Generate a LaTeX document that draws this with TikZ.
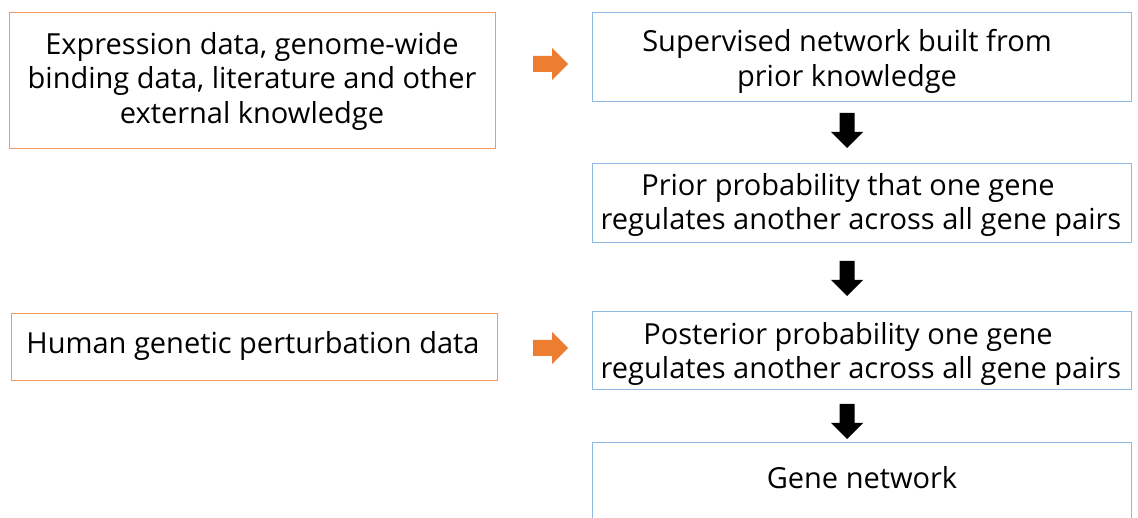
\documentclass[tikz,border=0pt]{standalone}
\usepackage{fontspec}
\setmainfont{Open Sans}
\usetikzlibrary{calc}
\definecolor{oarrow}{HTML}{ED7D31}
\definecolor{obord}{HTML}{F09A5E}
\definecolor{bbord}{HTML}{8FB8E2}
\tikzset{
  obox/.style={draw=obord, line width=0.9pt, rectangle, inner sep=0pt, anchor=north west},
  bbox/.style={draw=bbord, line width=0.9pt, rectangle, inner sep=0pt, anchor=north west},
  lbl/.style={align=center, inner sep=0pt, font=\fontsize{29}{34.5}\selectfont, text=black},
  oarr/.style={fill=oarrow},
  barr/.style={fill=black},
}
\begin{document}
\begin{tikzpicture}[x=1pt,y=-1pt]
\useasboundingbox (0,0) rectangle (1138,518);
% boxes
\node[obox, minimum width=486pt, minimum height=136pt] (O1) at (9,12) {};
\node[obox, minimum width=486pt, minimum height=67pt] (O2) at (11,313) {};
\node[bbox, minimum width=539pt, minimum height=89pt] (B1) at (592,12) {};
\node[bbox, minimum width=539pt, minimum height=79pt] (B2) at (592,163) {};
\node[bbox, minimum width=539pt, minimum height=78pt] (B3) at (592,311) {};
\node[inner sep=0pt, minimum width=539pt, minimum height=80pt, anchor=north west] (B4) at (592,442) {};
\draw[bbord, line width=0.9pt] (B4.south west) -- (B4.north west) -- (B4.north east) -- (B4.south east);
% texts
\node[lbl] (t1) at (252,81) {Expression data, genome-wide\\binding data, literature and other\\external knowledge};
\node[lbl] (t2) at (253,346) {Human genetic perturbation data};
\node[lbl] (t3) at (847,61.5) {Supervised network built from\\prior knowledge};
\node[lbl] (t4) at (861,205) {Prior probability that one gene\hspace*{26pt}\\regulates another across all gene pairs};
\node[lbl] (t5) at (861,354) {Posterior probability one gene\hspace*{26pt}\\regulates another across all gene pairs};
\node[lbl] (t6) at (862,478) {Gene network};
% orange arrows
\coordinate (oa1) at (533,64);
\coordinate (oa2) at (533,348);
\foreach \c in {oa1,oa2}{
  \fill[oarr] (\c) ++(0,-8) -- ++(19,0) -- ++(0,-8) -- ++(16,16) -- ++(-16,16) -- ++(0,-8) -- ++(-19,0) -- cycle;
}
% black arrows
\coordinate (ba1) at (847,113);
\coordinate (ba2) at (847,261);
\coordinate (ba3) at (847,404);
\foreach \c in {ba1,ba2,ba3}{
  \fill[barr] (\c) ++(-7.5,0) -- ++(0,19) -- ++(-8.5,0) -- ++(16,16) -- ++(16,-16) -- ++(-8.5,0) -- ++(0,-19) -- cycle;
}
\end{tikzpicture}
\end{document}
